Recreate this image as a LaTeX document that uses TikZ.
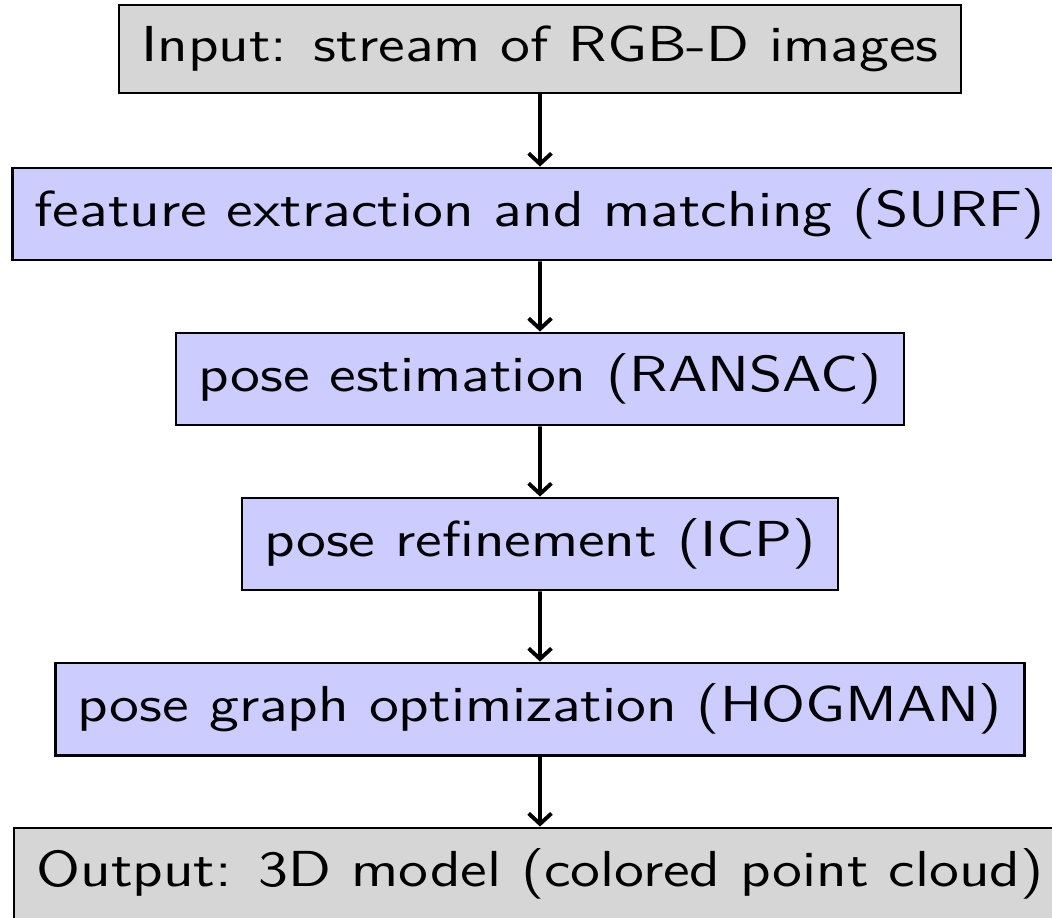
\documentclass[tikz,border=0pt]{standalone}
\usetikzlibrary{arrows.meta}
\tikzset{
  stage/.style={draw, semithick, fill=blue!20, inner xsep=5.25pt, inner ysep=6pt, font=\fontsize{14.4}{17}\selectfont\sffamily, xscale=1.205, transform shape},
  iobox/.style={stage, fill=gray!32},
  flow/.style={line width=1.1pt, -{Straight Barb[length=3pt,width=6.5pt]}}
}
\begin{document}
\begin{tikzpicture}
	\useasboundingbox (-5.40,0.49) rectangle (5.12,-8.68);
	% pipeline
	\node[iobox] (input) at (0,0) {Input: stream of RGB-D images};
	\node[stage] (surf) at (0,-1.65) {feature extraction and matching (SURF)};
	\node[stage] (ransac) at (0,-3.30) {pose estimation (RANSAC)};
	\node[stage] (icp) at (0,-4.95) {pose refinement (ICP)};
	\node[stage] (hogman) at (0,-6.60) {pose graph optimization (HOGMAN)};
	\node[iobox] (output) at (0,-8.25) {Output: 3D model (colored point cloud)};
	% arrows
	\foreach \a/\b in {input/surf, surf/ransac, ransac/icp, icp/hogman, hogman/output}
		\draw[flow] (\a) -- (\b);
\end{tikzpicture}
\end{document}
